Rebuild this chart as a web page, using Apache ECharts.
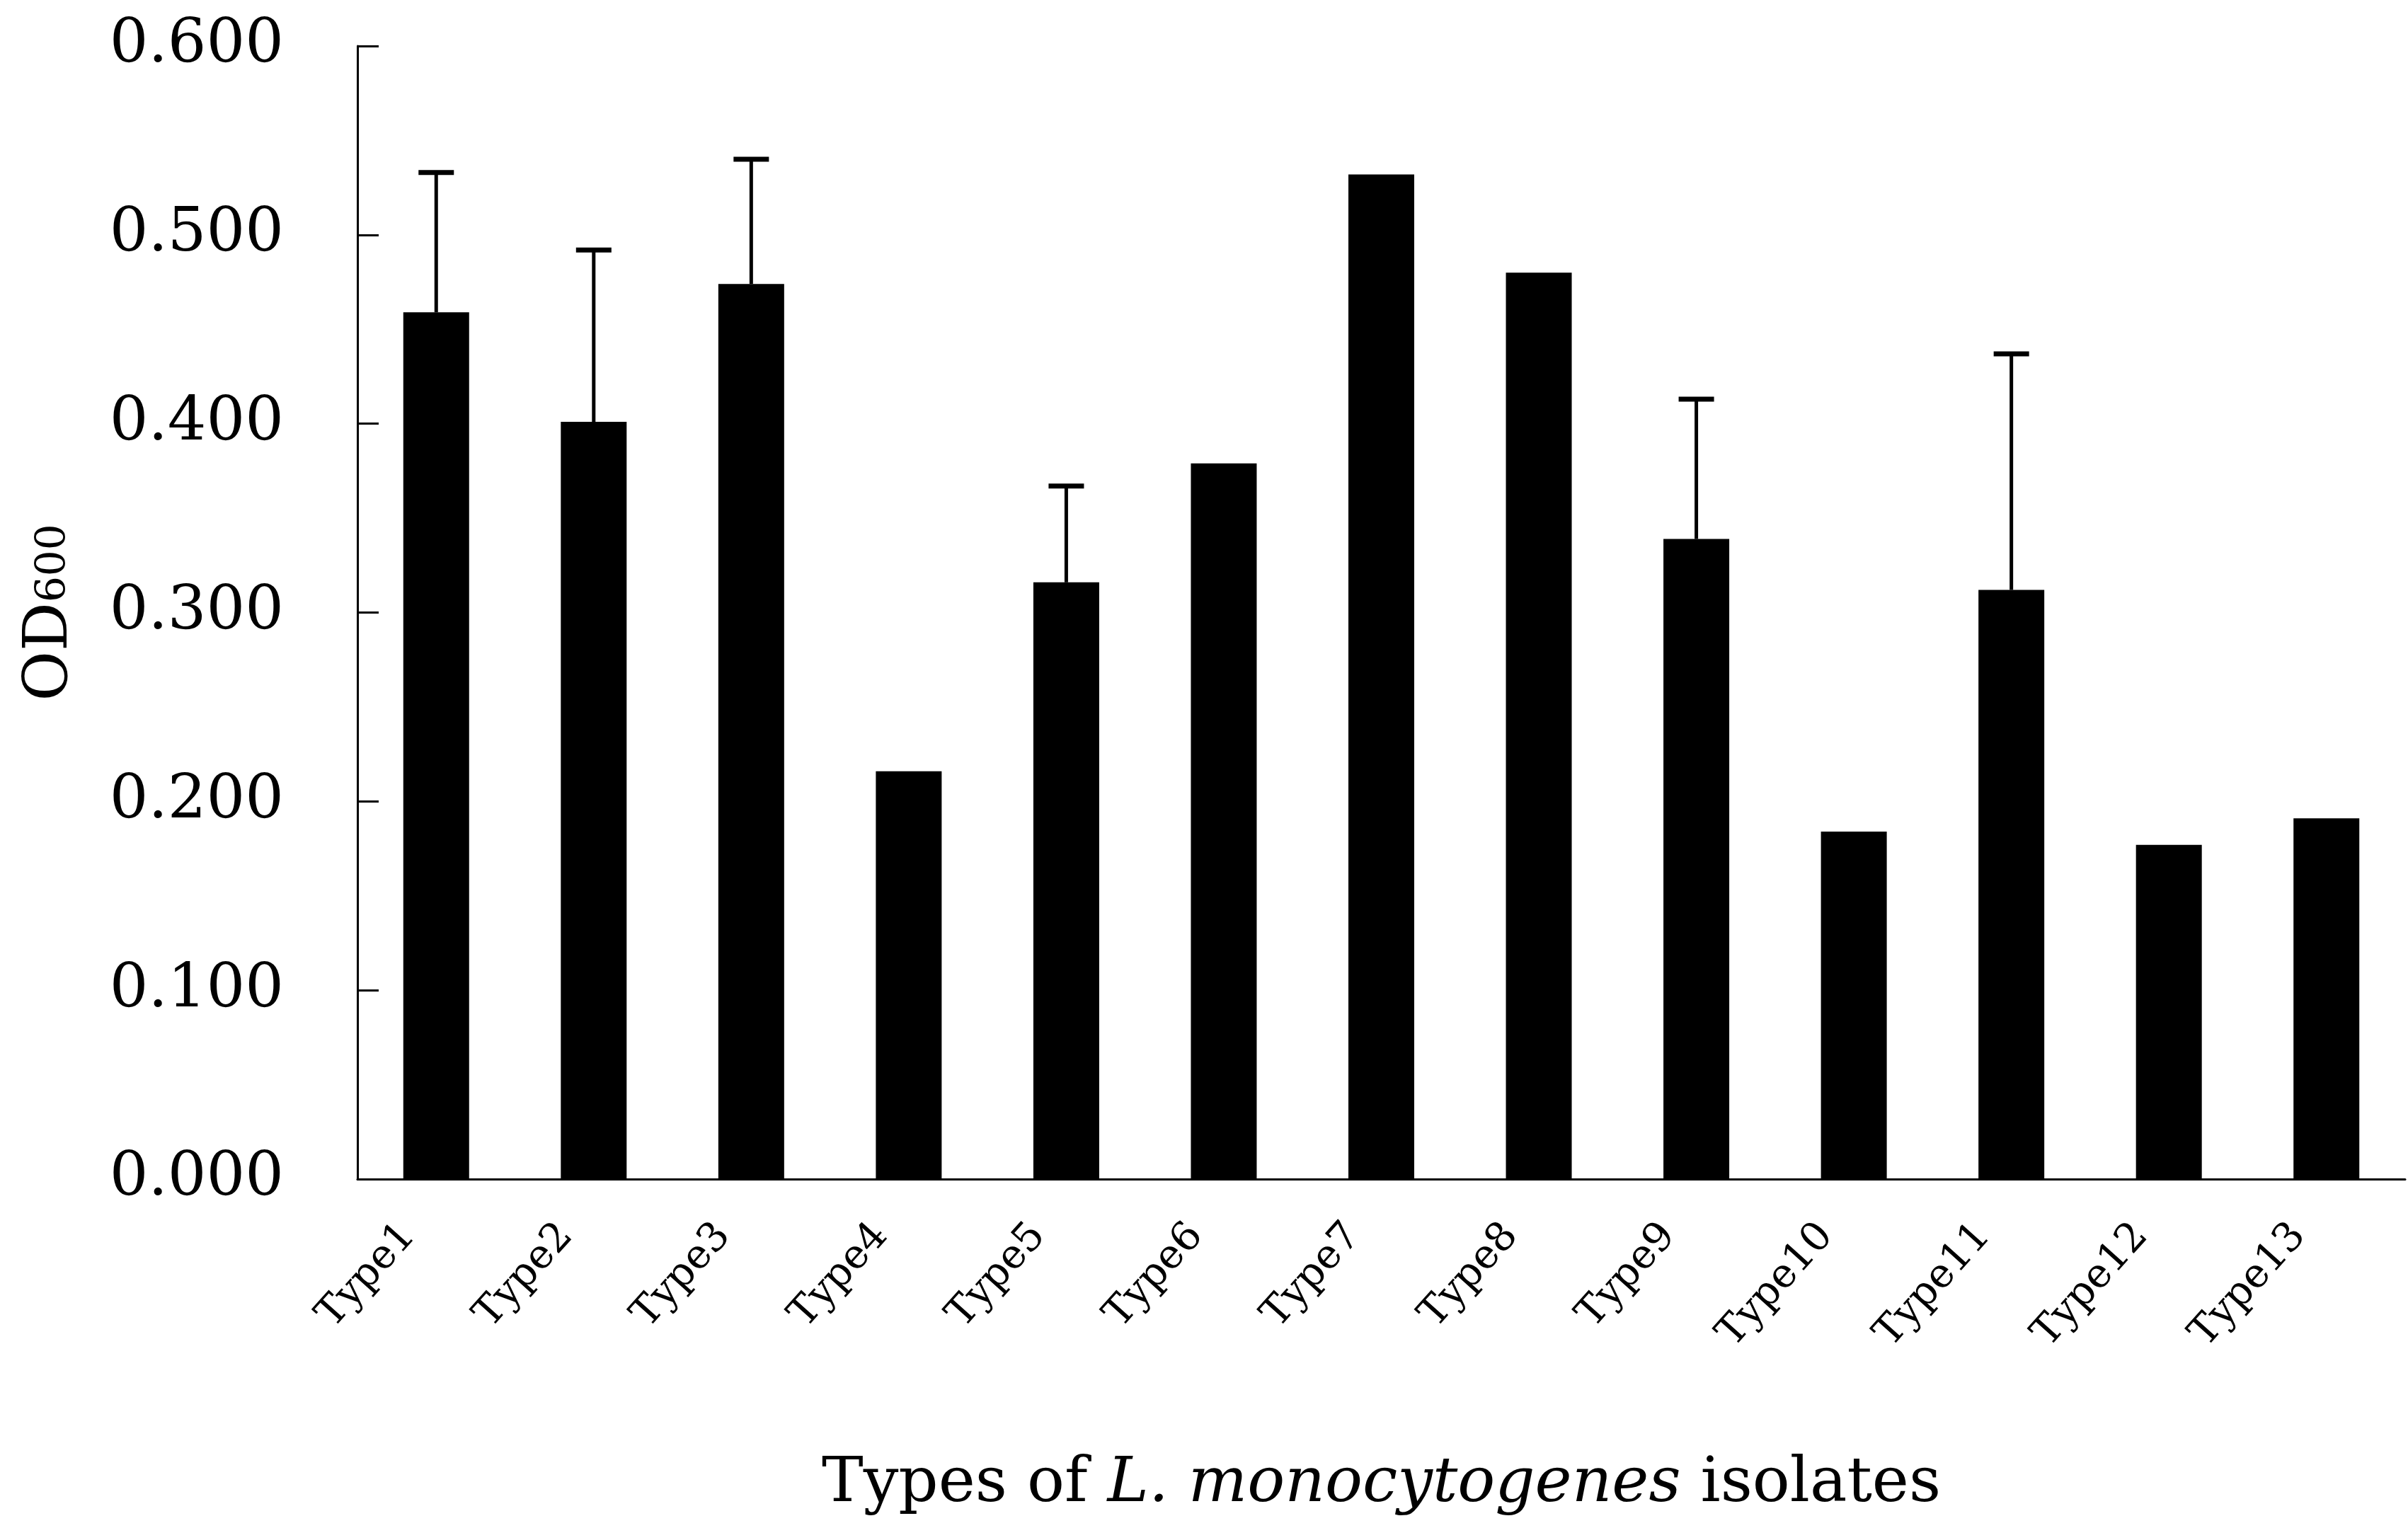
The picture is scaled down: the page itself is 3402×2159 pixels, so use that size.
<!DOCTYPE html>
<html>
<head>
<meta charset="utf-8">
<title>OD600 of L. monocytogenes isolate types</title>
<script src="https://cdn.jsdelivr.net/npm/echarts@6/dist/echarts.min.js"></script>
<style>
  html, body { margin: 0; padding: 0; background: #fff; }
  #chart { width: 3402px; height: 2159px; }
</style>
</head>
<body>
<div id="chart"></div>
<script>
// Isolate types on the x axis
const categories = ['Type1', 'Type2', 'Type3', 'Type4', 'Type5', 'Type6', 'Type7',
                    'Type8', 'Type9', 'Type10', 'Type11', 'Type12', 'Type13'];
// Mean OD600 per type
const meanOD = [0.459, 0.401, 0.474, 0.216, 0.316, 0.379, 0.532,
                0.480, 0.339, 0.184, 0.312, 0.177, 0.191];
// Standard deviation (upper whisker only); null where no bar is drawn
const sdOD = [0.074, 0.091, 0.066, null, 0.051, null, null,
              null, 0.074, null, 0.125, null, null];
// Y axis range and step
const yMin = 0, yMax = 0.6, yStep = 0.1;

const FONT = '"DejaVu Serif", serif';

const errorData = [];
sdOD.forEach((sd, i) => {
  if (sd !== null) errorData.push([i, meanOD[i], sd]);
});

const chart = echarts.init(document.getElementById('chart'));

chart.setOption({
  backgroundColor: '#ffffff',
  animation: false,
  grid: {
    left: 505, right: 4, top: 65, bottom: 493,
    containLabel: false,
    outerBoundsMode: 'none'
  },
  xAxis: {
    type: 'category',
    data: categories,
    boundaryGap: true,
    axisLine: { lineStyle: { color: '#000', width: 3 } },
    axisTick: { inside: true, length: 22, lineStyle: { color: '#000', width: 3 } },
    axisLabel: {
      rotate: 48,
      margin: 28,
      padding: [0, 58, 0, 0],
      fontFamily: FONT,
      fontSize: 57,
      color: '#000',
      interval: 0
    },
    name: '{n|Types of }{i|L. monocytogenes}{n| isolates}',
    nameLocation: 'middle',
    nameGap: 388,
    nameTextStyle: {
      verticalAlign: 'top',
      rich: {
        n: { fontFamily: FONT, fontSize: 88, color: '#000' },
        i: { fontFamily: FONT, fontSize: 88, fontStyle: 'italic', color: '#000' }
      }
    }
  },
  yAxis: {
    type: 'value',
    min: yMin,
    max: yMax,
    interval: yStep,
    splitLine: { show: false },
    axisLine: { show: true, lineStyle: { color: '#000', width: 3 } },
    axisTick: { show: true, inside: true, length: 30, lineStyle: { color: '#000', width: 3 } },
    axisLabel: {
      margin: 104,
      fontFamily: FONT,
      fontSize: 86,
      color: '#000',
      formatter: v => v.toFixed(3)
    },
    name: '{a|OD}{b|600}',
    nameLocation: 'middle',
    nameGap: 390,
    nameTextStyle: {
      rich: {
        a: { fontFamily: FONT, fontSize: 86, color: '#000' },
        b: { fontFamily: FONT, fontSize: 58, color: '#000', padding: [8, 0, 0, 0] }
      }
    }
  },
  series: [
    {
      type: 'bar',
      data: meanOD,
      barWidth: 93,
      itemStyle: { color: '#000' },
      z: 2
    },
    {
      type: 'custom',
      data: errorData,
      z: 3,
      renderItem: (params, api) => {
        const idx = api.value(0);
        const mean = api.value(1);
        const sd = api.value(2);
        const base = api.coord([idx, mean]);
        const top = api.coord([idx, mean + sd]);
        const half = 25;
        return {
          type: 'group',
          children: [
            {
              type: 'line',
              shape: { x1: base[0], y1: base[1], x2: top[0], y2: top[1] },
              style: { stroke: '#000', lineWidth: 5 }
            },
            {
              type: 'line',
              shape: { x1: top[0] - half, y1: top[1], x2: top[0] + half, y2: top[1] },
              style: { stroke: '#000', lineWidth: 7 }
            }
          ]
        };
      }
    }
  ]
});
</script>
</body>
</html>
